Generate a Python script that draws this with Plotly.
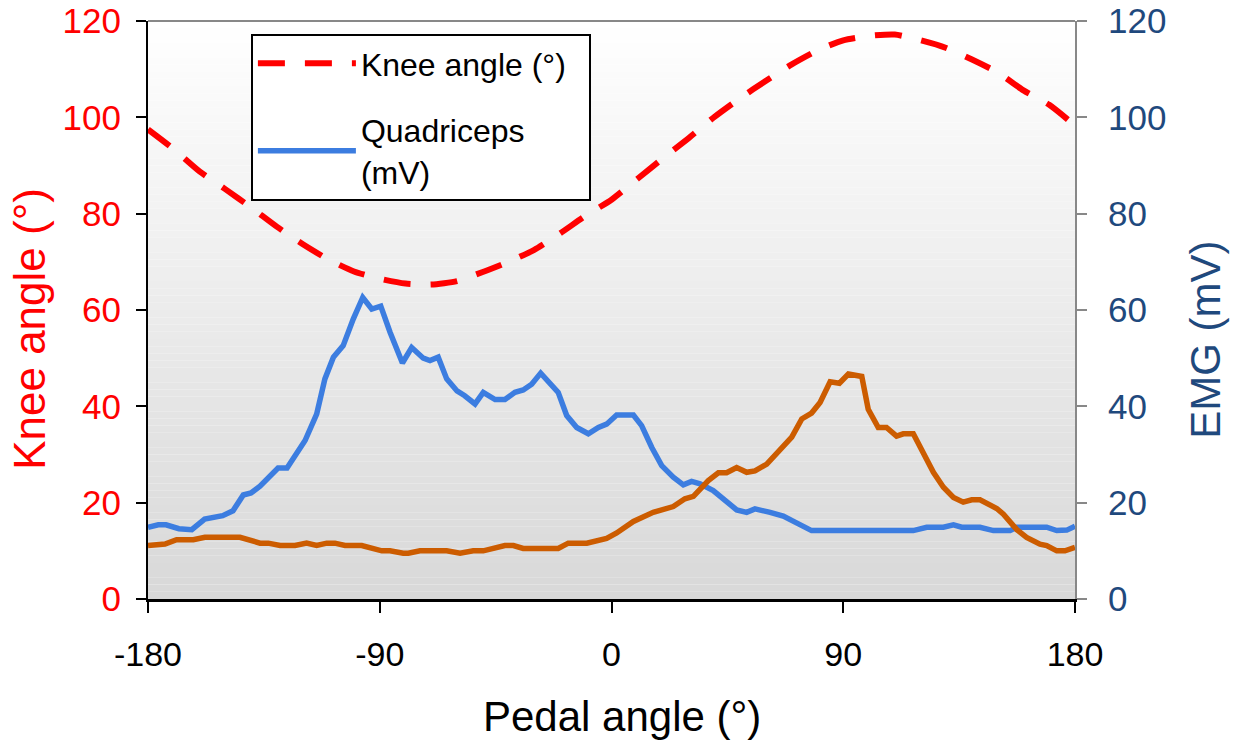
import plotly.graph_objects as go

# Knee joint angle over one pedal revolution
knee_pedal = [-180, -170, -160, -150, -140, -130, -120, -110, -100, -90, -80, -70, -60,
              -50, -40, -30, -20, -10, 0, 10, 20, 30, 40, 50, 60, 70, 80, 90, 100, 110,
              120, 130, 140, 150, 160, 170, 180]
knee_angle = [97.5, 93.4, 88.8, 85.1, 81.3, 77.3, 73.7, 70.5, 68.0, 66.5, 65.5, 65.3, 66.0,
              67.9, 70.0, 72.5, 75.9, 79.6, 82.9, 87.2, 91.5, 95.7, 100.1, 104.0, 107.6, 111.0,
              113.9, 116.0, 116.9, 117.2, 116.0, 114.4, 112.0, 109.3, 105.6, 102.6, 98.3]

# Quadriceps EMG (mV)
quad_pedal = [-180, -176, -173, -168, -163, -158, -151, -147, -143, -140, -136.5, -129.5, -126,
              -119, -114.5, -111.3, -108, -104.2, -100.3, -96.6, -93.1, -89.6, -86, -81.2,
              -77.6, -73.1, -70.5, -67.3, -64, -60, -57, -53, -49.8, -45.2, -41.4, -37.5,
              -34.3, -31, -27.5, -24.5, -20.7, -17.4, -13.5, -9, -5.1, -1.9, 2, 8.5, 11.7,
              15.6, 19.5, 24, 27.9, 31.1, 34.4, 39.5, 44.7, 48.6, 52.5, 55.7, 61.6, 66.7,
              72.6, 77.7, 117.2, 122.4, 128.9, 132.8, 136, 143.1, 148.3, 154.8, 157.4, 169,
              172.9, 176.8, 180]
quad_emg = [14.9, 15.4, 15.4, 14.6, 14.4, 16.6, 17.3, 18.3, 21.6, 22.0, 23.4, 27.2, 27.2,
            32.9, 38.4, 45.7, 50.2, 52.6, 58.1, 62.6, 60.2, 60.8, 55.4, 49.0,
            52.2, 50.0, 49.5, 50.2, 45.7, 43.2, 42.2, 40.5, 42.9, 41.4, 41.4, 42.9,
            43.4, 44.6, 46.9, 45.1, 42.9, 38.1, 35.6, 34.3, 35.6, 36.3, 38.2, 38.2, 36.0,
            31.5, 27.7, 25.3, 23.7, 24.4, 23.9, 22.5, 20.4, 18.5, 18.0, 18.7, 18.0, 17.2,
            15.6, 14.2, 14.2, 14.9, 14.9, 15.4, 14.9, 14.9, 14.2, 14.2, 14.9, 14.9,
            14.2, 14.3, 15.1]

# Second EMG channel (mV)
ham_pedal = [-180, -173.4, -168.9, -162.4, -157.9, -144.3, -136.5, -133.3, -128.7, -122.9,
             -118.4, -114.5, -110.6, -107.4, -103.5, -97, -89.2, -86, -80.9, -78.9, -74.4,
             -64, -58.8, -53.7, -49.8, -41.4, -38.1, -34.3, -20.7, -16.8, -9.6, -1.9, 2,
             8.5, 16.2, 24, 28.5, 31.8, 37.6, 41.5, 44.7, 48.6, 52.5, 55.7, 60.3, 66.7, 70,
             73.9, 77.7, 81, 84.9, 88.5, 92, 97.2, 99.7, 103.6, 106.8, 110.7, 113.3, 117.2,
             120.4, 125, 128.9, 132.8, 136.6, 139.9, 143.1, 149.6, 152.2, 157.4, 161.2,
             166.4, 169, 172.9, 176.1, 180]
ham_emg = [11.1, 11.4, 12.3, 12.3, 12.8, 12.8, 11.6, 11.6, 11.1, 11.1,
           11.6, 11.1, 11.6, 11.6, 11.1, 11.1, 10.0, 10.0, 9.5, 9.5, 10.0,
           10.0, 9.5, 10.0, 10.0, 11.1, 11.1, 10.5, 10.5, 11.6, 11.6, 12.6, 13.7,
           16.1, 18.0, 19.2, 20.8, 21.3, 24.6, 26.2, 26.2, 27.3, 26.3, 26.6, 28.0, 31.5, 33.6,
           37.4, 38.6, 40.8, 45.1, 44.8, 46.7, 46.2, 39.4, 35.6, 35.6, 33.8, 34.3, 34.3,
           30.8, 26.3, 23.2, 21.1, 20.1, 20.6, 20.6, 18.8, 17.6, 14.4, 12.8,
           11.4, 11.1, 10.0, 10.0, 10.7]

x_ticks = [-180, -90, 0, 90, 180]
y_ticks = [0, 20, 40, 60, 80, 100, 120]

FONT = "Arial, Liberation Sans, sans-serif"
RED = "#FF0000"
BLUE = "#3C7DE0"
ORANGE = "#CC5C00"
NAVY = "#1F497D"

fig = go.Figure()

fig.add_trace(go.Scatter(
    x=knee_pedal, y=knee_angle, mode="lines", name="Knee angle (°)\u00a0\u00a0",
    line=dict(color=RED, width=6, dash="27px,20px", shape="spline", smoothing=0.6),
    legendgroup="knee",
))
fig.add_trace(go.Scatter(
    x=quad_pedal, y=quad_emg, mode="lines", name="Quadriceps<br>(mV)",
    line=dict(color=BLUE, width=5.5), yaxis="y2", legendgroup="quad",
))
fig.add_trace(go.Scatter(
    x=ham_pedal, y=ham_emg, mode="lines", name="EMG 2",
    line=dict(color=ORANGE, width=5.5), yaxis="y2", showlegend=False,
))

# Vertical white-to-grey gradient behind the plot area
shapes = []
n_bands = 80
top_rgb = (255, 255, 255)
bot_rgb = (216, 216, 216)
for i in range(n_bands):
    t = (i + 0.5) / n_bands
    c = tuple(round(top_rgb[k] + (bot_rgb[k] - top_rgb[k]) * t) for k in range(3))
    shapes.append(dict(
        type="rect", xref="x domain", yref="y domain",
        x0=0, x1=1, y0=1 - (i + 1) / n_bands, y1=1 - i / n_bands,
        fillcolor="rgb(%d,%d,%d)" % c, line=dict(width=0), layer="below",
    ))
# Grey frame line along the top of the plot area
shapes.append(dict(
    type="line", xref="x domain", yref="y domain", x0=0, x1=1, y0=1, y1=1,
    line=dict(color="#888888", width=2), layer="above",
))

# Axis titles
annotations = [
    dict(text="Knee angle (°)", xref="paper", yref="paper", x=-0.128, y=0.468,
         xanchor="center", yanchor="middle", textangle=-90, showarrow=False,
         font=dict(size=44, color=RED, family=FONT)),
    dict(text="EMG (mV)", xref="paper", yref="paper", x=1.140, y=0.448,
         xanchor="center", yanchor="middle", textangle=-90, showarrow=False,
         font=dict(size=42, color=NAVY, family=FONT)),
    dict(text="Pedal angle (°)", xref="paper", yref="paper", x=0.511, y=-0.203,
         xanchor="center", yanchor="middle", showarrow=False,
         font=dict(size=42, color="black", family=FONT)),
]

fig.update_layout(
    width=1234, height=742,
    margin=dict(l=148, r=159, t=21, b=143, autoexpand=False),
    paper_bgcolor="white", plot_bgcolor="rgba(0,0,0,0)",
    font=dict(family=FONT, color="black"),
    shapes=shapes,
    annotations=annotations,
    showlegend=True,
    legend=dict(
        x=0.111, y=0.9775, xanchor="left", yanchor="top",
        bgcolor="white", bordercolor="black", borderwidth=2,
        font=dict(size=32, family=FONT, color="black"),
        itemwidth=98, tracegroupgap=22, traceorder="grouped",
    ),
    xaxis=dict(
        range=[-180, 180], tickvals=x_ticks, ticktext=[str(v) for v in x_ticks],
        showgrid=False, zeroline=False, automargin=False,
        showline=True, linecolor="black", linewidth=3,
        ticks="outside", ticklen=11, tickwidth=2, tickcolor="black",
        tickfont=dict(size=34, color="black"), ticklabelstandoff=12,
    ),
    yaxis=dict(
        range=[0, 120], tickvals=y_ticks, showgrid=False, zeroline=False,
        automargin=False,
        showline=True, linecolor="black", linewidth=2,
        ticks="outside", ticklen=10, tickwidth=2, tickcolor="black",
        tickfont=dict(size=35, color=RED), ticklabelstandoff=8,
    ),
    yaxis2=dict(
        range=[0, 120], tickvals=y_ticks, overlaying="y", side="right",
        showgrid=False, zeroline=False, automargin=False,
        showline=True, linecolor="#888888", linewidth=2,
        ticks="outside", ticklen=10, tickwidth=2, tickcolor="#888888",
        tickfont=dict(size=35, color=NAVY), ticklabelstandoff=14,
    ),
)

fig.write_html("out.html")
